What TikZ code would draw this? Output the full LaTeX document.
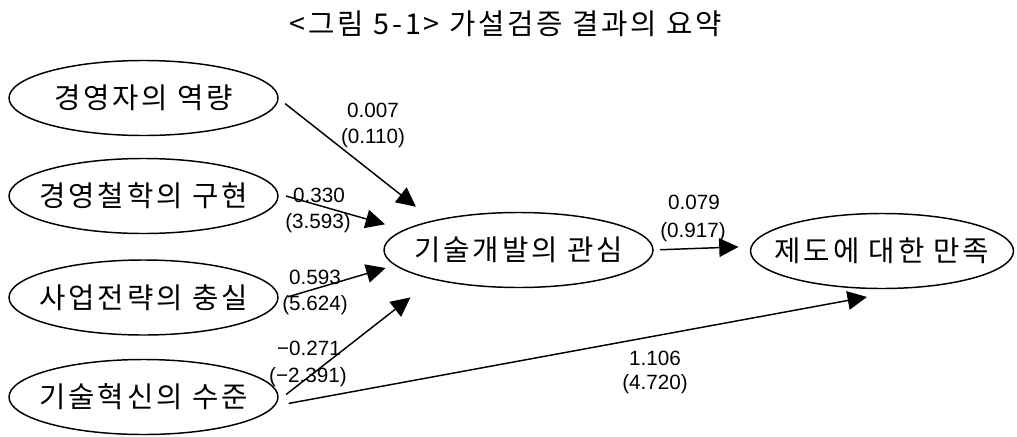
\documentclass[tikz,border=0pt]{standalone}
\usepackage{fontspec}
\setmainfont{Liberation Sans}
\newfontfamily\kr[LetterSpace=10]{Noto Sans CJK KR}
\usetikzlibrary{arrows.meta,shapes.geometric}
\begin{document}
\begin{tikzpicture}[x=0.75pt,y=-0.75pt,
  ell/.style={draw,ellipse,line width=1.1pt,inner ysep=0pt,inner xsep=-12pt,outer sep=0pt,
    minimum width=201.75pt,minimum height=56.25pt,
    font=\kr\fontsize{21.5}{23}\selectfont},
  arr/.style={line width=1.1pt,-{Triangle[length=14.5pt,width=14pt]}},
  num/.style={font=\fontsize{15.5}{17}\selectfont,inner sep=0pt}]
\path[use as bounding box] (0,0) rectangle (1017,436);
\node[font=\kr\fontsize{21.5}{23}\selectfont] (title) at (506,24) {<그림 5-1> 가설검증 결과의 요약};
\node[ell] (a) at (143.5,98) {경영자의 역량};
\node[ell] (b) at (143.5,196) {경영철학의 구현};
\node[ell] (c) at (143.5,297.5) {사업전략의 충실};
\node[ell] (d) at (143.5,397) {기술혁신의 수준};
\node[ell] (k) at (518.5,250) {기술개발의 관심};
\node[ell,minimum width=197.25pt] (s) at (882,251) {제도에 대한 만족};
\draw[arr,shorten <=6.8pt,shorten >=17.1pt] (a.-0.55) -- (k.161.8);
\draw[arr,shorten <=6.45pt,shorten >=15.45pt] (b.1.5) -- (k.170.8);
\draw[arr,shorten <=7.8pt,shorten >=7.7pt] (c.-1) -- (k.187.6);
\draw[arr,shorten <=8.8pt,shorten >=22.3pt] (d.-2.2) -- (k.199.8);
\draw[arr,shorten <=11.25pt,shorten >=42.75pt] (d.-4.3) -- (s.-41);
\draw[arr,shorten <=5.25pt,shorten >=9.7pt] (k.0.85) -- (s.178.7);
\node[num] (l1a) at (373,110) {0.007};
\node[num] (l1b) at (373,138) {(0.110)};
\node[num] (l2a) at (319,195) {0.330};
\node[num] (l2b) at (318,223) {(3.593)};
\node[num] (l3a) at (315,277) {0.593};
\node[num] (l3b) at (315,305) {(5.624)};
\node[num] (l4a) at (309,348) {−0.271};
\node[num] (l4b) at (308,377) {(−2.391)};
\node[num] (l5a) at (655,358) {1.106};
\node[num] (l5b) at (655,384) {(4.720)};
\node[num] (l6a) at (694,202) {0.079};
\node[num] (l6b) at (693,232) {(0.917)};
\end{tikzpicture}
\end{document}
